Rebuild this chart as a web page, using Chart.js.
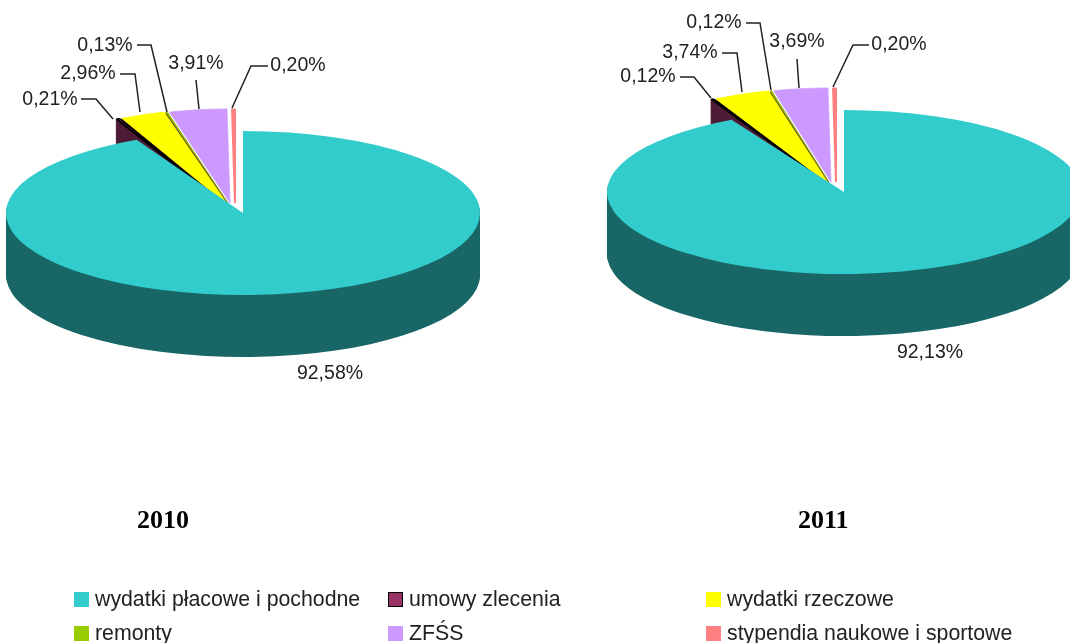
<!DOCTYPE html>
<html>
<head>
<meta charset="utf-8">
<script src="https://cdn.jsdelivr.net/npm/chart.js@4/dist/chart.umd.min.js"></script>
<style>
  html, body { margin: 0; width: 1070px; height: 643px; overflow: hidden; background: #fff; }
  canvas { position: absolute; left: 0; top: 0; }
  .year { position: absolute; font: bold 26px "Liberation Serif", serif; color: #000; line-height: 30px; }
  .item { position: absolute; font: 21.3px "Liberation Sans", Arial, sans-serif; color: #222; line-height: 24px; white-space: nowrap; }
  .swatch { position: absolute; width: 15px; height: 15px; box-sizing: border-box; }
</style>
</head>
<body>
<canvas id="pie2010" width="1070" height="643"></canvas>
<canvas id="pie2011" width="1070" height="643"></canvas>
<div id="legend"></div>
<div class="year" style="left:137px;top:505px">2010</div>
<div class="year" style="left:798px;top:505px">2011</div>

<script>
// data
const categories = ['wydatki płacowe i pochodne', 'umowy zlecenia', 'wydatki rzeczowe', 'remonty', 'ZFŚS', 'stypendia naukowe i sportowe'];
const values2010 = [92.58, 0.21, 2.96, 0.13, 3.91, 0.20];
const values2011 = [92.13, 0.12, 3.74, 0.12, 3.69, 0.20];

// styles
const colors = ['#33cccc', '#993366', '#ffff00', '#99cc00', '#cc99ff', '#ff8080'];
const wallColors = ['#196666', '#4d1a33', '#4d1a33', '#4d1a33', null, null];
const borderColors = ['#33cccc', '#000000', '#ffff00', '#7f9900', '#cc99ff', '#ff8080'];
const borderWidths = [0, 2.5, 2, 0.8, 1, 2];

// exploded slices: how far each one sits from the pie centre
const shiftX = [0, -20, -17, -15, -13, -8];
const shiftY = [0, -10, -10, -10, -10, -10];
const flatten = [0.346, 0.397, 0.397, 0.397, 0.397, 0.397];
const depth = 62;

// leader lines and label spots, one per slice
const layout2010 = {
  cx: 243, cy: 213,
  labels: [[330, 374], [50, 100], [88, 74], [105, 46], [196, 64], [298, 66]],
  leaders: [
    null,
    [[81, 99], [96, 99], [113, 119]],
    [[120, 74], [135, 74], [140, 112]],
    [[137, 45], [151, 45], [167, 112]],
    [[196, 80], [199, 109]],
    [[268, 66], [251, 66], [232, 108]]
  ]
};
const layout2011 = {
  cx: 844, cy: 192,
  labels: [[930, 353], [648, 77], [690, 53], [714, 23], [797, 42], [899, 45]],
  leaders: [
    null,
    [[680, 77], [694, 77], [711, 98]],
    [[722, 53], [737, 53], [742, 92]],
    [[746, 23], [760, 23], [771, 90]],
    [[797, 59], [799, 88]],
    [[869, 45], [853, 45], [833, 87]]
  ]
};

// 3D look: the library's arcs are drawn flattened, walls first, then the tops
const pie3d = {
  id: 'pie3d',
  beforeDatasetDraw(chart, args, opts) {
    const ctx = chart.ctx;
    const arcs = chart.getDatasetMeta(0).data;
    const put = (arc, i, drop) => {
      ctx.save();
      ctx.translate(opts.cx + shiftX[i], opts.cy + shiftY[i] + drop);
      ctx.scale(1, flatten[i]);
      ctx.translate(-arc.x, -arc.y);
      arc.draw(ctx);
      ctx.restore();
    };
    const wall = (arc, i) => {
      if (!wallColors[i]) return;
      const keep = arc.options;
      arc.options = { ...keep, backgroundColor: wallColors[i], borderColor: wallColors[i] };
      for (let d = 1; d <= depth; d++) put(arc, i, d);
      arc.options = keep;
    };
    // big wall, then one flat coat so the stacked edges leave no stripes
    wall(arcs[0], 0);
    ctx.save();
    ctx.globalCompositeOperation = 'source-atop';
    ctx.fillStyle = wallColors[0];
    ctx.fillRect(0, 0, chart.width, chart.height);
    // small slices go behind the big one
    ctx.globalCompositeOperation = 'destination-over';
    for (let i = 1; i < arcs.length; i++) wall(arcs[i], i);
    ctx.restore();
    for (let i = arcs.length - 1; i >= 0; i--) put(arcs[i], i, 0);
    return false;
  },
  afterDraw(chart, args, opts) {
    const ctx = chart.ctx;
    const values = chart.data.datasets[0].data;
    ctx.save();
    ctx.strokeStyle = '#222';
    ctx.lineWidth = 1.5;
    opts.leaders.forEach(pts => {
      if (!pts) return;
      ctx.beginPath();
      pts.forEach((p, n) => n ? ctx.lineTo(p[0], p[1]) : ctx.moveTo(p[0], p[1]));
      ctx.stroke();
    });
    ctx.fillStyle = '#222';
    ctx.font = '19.5px "Liberation Sans", Arial, sans-serif';
    ctx.textAlign = 'center';
    ctx.textBaseline = 'middle';
    values.forEach((v, i) => {
      ctx.fillText(v.toFixed(2).replace('.', ',') + '%', opts.labels[i][0], opts.labels[i][1]);
    });
    ctx.restore();
  }
};

function drawPie(id, values, layout) {
  return new Chart(document.getElementById(id), {
    type: 'pie',
    data: {
      labels: categories,
      datasets: [{
        data: values,
        backgroundColor: colors,
        borderColor: borderColors,
        borderWidth: borderWidths,
        clip: false
      }]
    },
    options: {
      responsive: false,
      animation: false,
      radius: 237,
      plugins: {
        legend: { display: false },
        tooltip: { enabled: false },
        pie3d: layout
      }
    },
    plugins: [pie3d]
  });
}

drawPie('pie2010', values2010, layout2010);
drawPie('pie2011', values2011, layout2011);

// legend below the pies, three columns, two rows
const legendX = [74, 388, 706];
const legendY = [592, 626];
const legendBox = document.getElementById('legend');
categories.forEach((name, i) => {
  const col = i % 3, row = Math.floor(i / 3);
  const sw = document.createElement('div');
  sw.className = 'swatch';
  sw.style.left = legendX[col] + 'px';
  sw.style.top = legendY[row] + 'px';
  sw.style.background = colors[i];
  if (i === 1) sw.style.border = '1px solid #000';
  legendBox.appendChild(sw);
  const txt = document.createElement('div');
  txt.className = 'item';
  txt.style.left = (legendX[col] + 21) + 'px';
  txt.style.top = (legendY[row] - 5) + 'px';
  txt.textContent = name;
  legendBox.appendChild(txt);
});
</script>
</body>
</html>
